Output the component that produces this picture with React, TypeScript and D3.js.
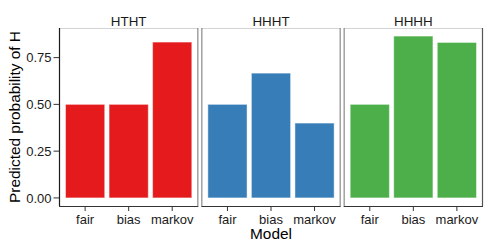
import React from 'react';
import * as d3 from 'd3';

const models = ['fair', 'bias', 'markov'];
const sequences = ['HTHT', 'HHHT', 'HHHH'];
const colors = ['#E41A1C', '#377EB8', '#4DAF4A'];
const hthtValues = [0.5, 0.5, 0.833];
const hhhtValues = [0.5, 0.667, 0.4];
const hhhhValues = [0.5, 0.865, 0.831];
const yTicks = [0, 0.25, 0.5, 0.75];

const seriesValues = [hthtValues, hhhtValues, hhhhValues];

const W = 498;
const H = 249;
const margin = { top: 28, right: 15, bottom: 43, left: 59 };
const gap = 3;
const font = '"Liberation Sans", Arial, Helvetica, sans-serif';

export default function App() {
  const plotW = W - margin.left - margin.right;
  const panelW = (plotW - gap * (sequences.length - 1)) / sequences.length;
  const innerBottom = H - margin.bottom;

  const maxV = d3.max(seriesValues.flat()) || 1;
  const pad = maxV * 0.05;
  const y = d3.scaleLinear()
    .domain([-pad, maxV + pad])
    .range([innerBottom, margin.top]);

  const x = d3.scaleLinear()
    .domain([0.4, models.length + 0.6])
    .range([0, panelW]);

  const fmt = d3.format('.2f');

  return (
    <div style={{ position: 'absolute', left: 0, top: 0 }}>
      <svg width={W} height={H} style={{ display: 'block', background: '#fff' }} fontFamily={font}>
        {sequences.map((seq, p) => {
          const px = margin.left + p * (panelW + gap);
          const vals = seriesValues[p];
          return (
            <g key={seq} transform={`translate(${px},0)`}>
              <text x={panelW / 2} y={25.7} textAnchor="middle" fontSize={13.4} fill="#1a1a1a">{seq}</text>
              {vals.map((v, i) => (
                <rect
                  key={models[i]}
                  x={x(i + 1 - 0.45)}
                  width={x(i + 1.45) - x(i + 0.55)}
                  y={y(v)}
                  height={y(0) - y(v)}
                  fill={colors[p]}
                  stroke="#fff"
                  strokeOpacity={0.45}
                  strokeWidth={1}
                />
              ))}
              {/* panel border */}
              <line x1={0} x2={panelW} y1={margin.top + 0.5} y2={margin.top + 0.5} stroke="#d4d4d4" />
              <line x1={panelW - 0.5} x2={panelW - 0.5} y1={margin.top} y2={innerBottom}
                stroke={p === sequences.length - 1 ? '#555' : '#8a8a8a'} strokeWidth={1.2} />
              <line x1={0.5} x2={0.5} y1={margin.top} y2={innerBottom}
                stroke={p === 0 ? '#1a1a1a' : '#8a8a8a'} strokeWidth={1.2} />
              <line x1={0} x2={panelW} y1={innerBottom + 0.5} y2={innerBottom + 0.5} stroke="#333" strokeWidth={1.1} />
              {models.map((m, i) => (
                <g key={m} transform={`translate(${x(i + 1)},0)`}>
                  <line y1={innerBottom} y2={innerBottom + 5} stroke="#333" />
                  <text y={223.5} textAnchor="middle" fontSize={13} fill="#1a1a1a">{m}</text>
                </g>
              ))}
            </g>
          );
        })}
        {yTicks.map(t => (
          <g key={t} transform={`translate(0,${y(t)})`}>
            <line x1={margin.left - 5.5} x2={margin.left} stroke="#333" />
            <text x={margin.left - 7.5} dy={4.6} textAnchor="end" fontSize={13} fill="#1a1a1a">{fmt(t)}</text>
          </g>
        ))}
        <text x={margin.left + plotW / 2} y={239.3} textAnchor="middle" fontSize={15.4} fill="#000">Model</text>
        <text
          transform={`translate(20,${(margin.top + innerBottom) / 2}) rotate(-90)`}
          textAnchor="middle"
          fontSize={15.4}
          fill="#000"
        >Predicted probability of H</text>
      </svg>
    </div>
  );
}
